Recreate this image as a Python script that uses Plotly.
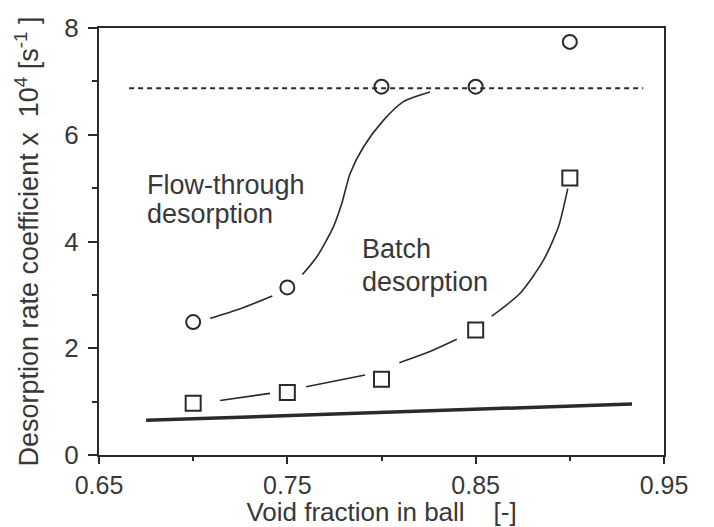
import plotly.graph_objects as go

# Measured desorption rate coefficients (x 10^4 s^-1) against void fraction
void_fraction = [0.70, 0.75, 0.80, 0.85, 0.90]
flow_through = [2.49, 3.14, 6.90, 6.90, 7.74]
batch = [0.97, 1.17, 1.42, 2.34, 5.19]

# Hand-drawn trend curves, broken where they meet the markers (None = gap)
flow_curve_x = [0.709, 0.725, 0.742, None,
                0.758, 0.7656, 0.7744, 0.7789, 0.7833, 0.7904, 0.801, 0.8117, 0.8258]
flow_curve_y = [2.56, 2.74, 2.98, None,
                3.38, 3.71, 4.27, 4.71, 5.27, 5.77, 6.27, 6.62, 6.80]
batch_curve_x = [0.7143, 0.7408, None,
                 0.760, 0.7913, None,
                 0.8095, 0.825, 0.84, None,
                 0.8585, 0.8736, 0.886, 0.894, 0.8989]
batch_curve_y = [1.02, 1.155, None,
                 1.28, 1.50, None,
                 1.73, 1.93, 2.17, None,
                 2.60, 3.03, 3.65, 4.28, 4.99]

# Plateau level (dotted) and the lower reference line (thick)
plateau_x = [0.666, 0.939]
plateau_y = [6.87, 6.87]
lower_x = [0.675, 0.933]
lower_y = [0.65, 0.955]

INK = "#2a2a2a"
TEXT = "#383838"
FONT = "Liberation Sans, Arial, Helvetica, sans-serif"

fig = go.Figure()

fig.add_trace(go.Scatter(x=flow_curve_x, y=flow_curve_y, mode="lines",
                         line=dict(color=INK, width=1.6, shape="spline", smoothing=0.7),
                         connectgaps=False, hoverinfo="skip"))
fig.add_trace(go.Scatter(x=batch_curve_x, y=batch_curve_y, mode="lines",
                         line=dict(color=INK, width=1.6, shape="spline", smoothing=0.7),
                         connectgaps=False, hoverinfo="skip"))
fig.add_trace(go.Scatter(x=plateau_x, y=plateau_y, mode="lines",
                         line=dict(color=INK, width=2, dash="5px,4px"), hoverinfo="skip"))
fig.add_trace(go.Scatter(x=lower_x, y=lower_y, mode="lines",
                         line=dict(color=INK, width=3.5), hoverinfo="skip"))
fig.add_trace(go.Scatter(x=void_fraction, y=flow_through, mode="markers",
                         name="Flow-through desorption",
                         marker=dict(symbol="circle-open", size=14, color=INK,
                                     line=dict(width=2, color=INK))))
fig.add_trace(go.Scatter(x=void_fraction, y=batch, mode="markers",
                         name="Batch desorption",
                         marker=dict(symbol="square-open", size=15, color=INK,
                                     line=dict(width=2, color=INK))))

labels = [
    ("Flow-through", 0.6744, 5.06),
    ("desorption", 0.6744, 4.52),
    ("Batch", 0.7886, 3.86),
    ("desorption", 0.7886, 3.25),
]
for txt, lx, ly in labels:
    fig.add_annotation(x=lx, y=ly, text=txt, showarrow=False,
                       xanchor="left", yanchor="middle",
                       font=dict(family=FONT, size=27, color=TEXT))

fig.update_layout(
    width=714, height=527,
    margin=dict(l=99, r=50, t=28, b=72, autoexpand=False),
    paper_bgcolor="white", plot_bgcolor="white",
    showlegend=False,
    font=dict(family=FONT, color=TEXT),
)

fig.update_xaxes(
    range=[0.65, 0.95], tick0=0.65, dtick=0.1, tickformat=".2f",
    showgrid=False, zeroline=False,
    showline=True, linecolor=INK, linewidth=2, mirror=True,
    ticks="outside", ticklen=7, tickwidth=1.5, tickcolor=INK,
    minor=dict(dtick=0.05, tick0=0.65, ticks="outside", ticklen=4, tickwidth=1.5, tickcolor=INK),
    tickfont=dict(family=FONT, size=25, color=TEXT),
    ticklabelstandoff=0,
    title=dict(text="Void fraction in ball\u00a0\u00a0\u00a0\u00a0[-]",
               font=dict(family=FONT, size=26, color=TEXT), standoff=0),
    automargin=False,
)
fig.update_yaxes(
    range=[0, 8], tick0=0, dtick=2,
    showgrid=False, zeroline=False,
    showline=True, linecolor=INK, linewidth=2, mirror=True,
    ticks="outside", ticklen=9, tickwidth=1.5, tickcolor=INK,
    minor=dict(dtick=1, ticks="outside", ticklen=5, tickwidth=1.5, tickcolor=INK),
    tickfont=dict(family=FONT, size=26, color=TEXT),
    ticklabelstandoff=4,
    title=dict(text="Desorption rate coefficient x\u00a0\u00a010<sup>4</sup>\u00a0[s<sup>-1</sup>\u00a0]",
               font=dict(family=FONT, size=27, color=TEXT), standoff=18),
    automargin=False,
)

fig.write_html("out.html")
